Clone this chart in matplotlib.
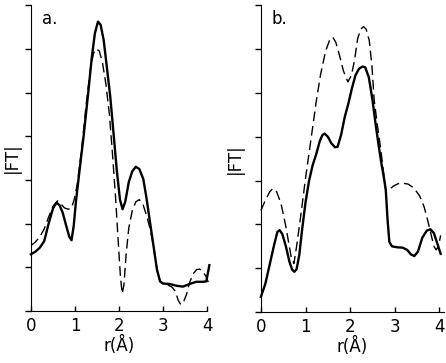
import numpy as np
from matplotlib import pyplot as plt

# panel a: solid and dashed |FT| curves (r in Angstrom)
a_solid_r = [0.0, 0.1, 0.2, 0.3, 0.4, 0.5, 0.58, 0.65, 0.72, 0.8, 0.87, 0.92, 0.97, 1.02,
             1.1, 1.2, 1.3, 1.38, 1.45, 1.52, 1.58, 1.65, 1.72, 1.8, 1.88, 1.95, 2.02, 2.08,
             2.14, 2.22, 2.3, 2.38, 2.46, 2.55, 2.62, 2.7, 2.78, 2.86, 2.93, 3.0, 3.15, 3.3,
             3.45, 3.6, 3.75, 3.9, 3.98, 4.05]
a_solid_y = [1.3, 1.36, 1.45, 1.6, 2.0, 2.35, 2.48, 2.42, 2.25, 1.95, 1.7, 1.62, 1.95, 2.5,
             3.2, 4.05, 5.0, 5.8, 6.35, 6.62, 6.55, 6.2, 5.6, 4.9, 4.0, 3.2, 2.55, 2.33,
             2.5, 2.95, 3.2, 3.3, 3.25, 3.02, 2.6, 2.05, 1.5, 0.95, 0.68, 0.63, 0.62, 0.58,
             0.56, 0.62, 0.67, 0.67, 0.68, 1.05]
a_dash_r = [0.0, 0.1, 0.2, 0.3, 0.4, 0.5, 0.6, 0.68, 0.76, 0.85, 0.92, 0.98, 1.05, 1.15,
            1.25, 1.35, 1.42, 1.48, 1.55, 1.62, 1.7, 1.78, 1.85, 1.92, 1.98, 2.03, 2.07,
            2.11, 2.16, 2.22, 2.3, 2.38, 2.46, 2.54, 2.62, 2.7, 2.78, 2.86, 2.93, 3.0, 3.1,
            3.2, 3.28, 3.34, 3.4, 3.46, 3.53, 3.6, 3.68, 3.76, 3.83, 3.9, 3.97, 4.05]
a_dash_y = [1.5, 1.58, 1.7, 1.88, 2.15, 2.4, 2.52, 2.45, 2.36, 2.33, 2.36, 2.55, 2.9, 3.7,
            4.7, 5.55, 5.9, 6.0, 5.95, 5.7, 5.2, 4.5, 3.6, 2.6, 1.6, 0.8, 0.4,
            0.6, 1.3, 1.9, 2.3, 2.5, 2.55, 2.45, 2.2, 1.9, 1.5, 0.95, 0.68, 0.62, 0.6,
            0.55, 0.45, 0.25, 0.15, 0.2, 0.38, 0.65, 0.85, 0.95, 0.96, 0.9, 0.8, 0.6]

# panel b
b_solid_r = [0.0, 0.1, 0.2, 0.3, 0.37, 0.42, 0.48, 0.56, 0.64, 0.7, 0.75, 0.8, 0.86, 0.92,
             1.0, 1.08, 1.16, 1.24, 1.32, 1.38, 1.43, 1.5, 1.58, 1.66, 1.72, 1.8, 1.88, 1.96,
             2.04, 2.12, 2.2, 2.28, 2.34, 2.42, 2.5, 2.57, 2.64, 2.7, 2.76, 2.8, 2.84, 2.88,
             2.94, 3.05, 3.18, 3.28, 3.36, 3.44, 3.52, 3.62, 3.72, 3.8, 3.88, 3.96, 4.03]
b_solid_y = [0.35, 0.65, 1.1, 1.55, 1.83, 1.87, 1.78, 1.5, 1.15, 0.97, 0.92, 0.98, 1.3, 1.85,
             2.5, 3.0, 3.35, 3.6, 3.9, 4.04, 4.07, 4.0, 3.85, 3.76, 3.77, 4.05, 4.45, 4.75,
             5.1, 5.4, 5.55, 5.6, 5.58, 5.35, 4.85, 4.3, 3.8, 3.4, 3.05, 2.78, 2.1, 1.6,
             1.5, 1.48, 1.47, 1.42, 1.32, 1.28, 1.38, 1.7, 1.86, 1.89, 1.8, 1.55, 1.33]
b_dash_r = [0.0, 0.1, 0.2, 0.27, 0.35, 0.45, 0.55, 0.62, 0.68, 0.74, 0.8, 0.9, 1.0, 1.12,
            1.24, 1.34, 1.45, 1.54, 1.61, 1.68, 1.75, 1.85, 1.95, 2.03, 2.1, 2.17, 2.24,
            2.3, 2.36, 2.43, 2.49, 2.54, 2.62, 2.69, 2.76, 2.8, 2.88, 2.98, 3.08, 3.18,
            3.3, 3.43, 3.56, 3.66, 3.75, 3.82, 3.88, 3.93, 3.98, 4.03]
b_dash_y = [2.32, 2.55, 2.75, 2.82, 2.75, 2.48, 2.0, 1.6, 1.25, 1.11, 1.5, 2.25, 3.05, 3.92,
            4.8, 5.43, 5.95, 6.2, 6.27, 6.15, 5.9, 5.5, 5.25, 5.4, 5.75, 6.24, 6.45,
            6.51, 6.45, 6.19, 5.6, 4.83, 4.2, 3.69, 3.1, 2.78, 2.8, 2.88, 2.93, 2.94,
            2.92, 2.83, 2.65, 2.4, 2.05, 1.75, 1.5, 1.42, 1.5, 1.75]

xticks = [0, 1, 2, 3, 4]
yticks = [0, 1, 2, 3, 4, 5, 6, 7]

fig = plt.figure(figsize=(4.46, 3.63), dpi=100)
ax1 = fig.add_axes([0.0695, 0.143, 0.395, 0.843])
ax2 = fig.add_axes([0.585, 0.140, 0.41, 0.846])

panels = [(ax1, a_solid_r, a_solid_y, a_dash_r, a_dash_y, 'a.', 4.0, -0.06),
          (ax2, b_solid_r, b_solid_y, b_dash_r, b_dash_y, 'b.', 4.1, -0.095)]

for ax, sr, sy, dr, dy, label, xmax, ylab_x in panels:
    ax.plot(sr, sy, '-', color='black', lw=1.7, clip_on=False,
            solid_joinstyle='round')
    ax.plot(dr, dy, '--', color='black', lw=1.0, dashes=(7, 3.5), clip_on=False)
    ax.set_xlim(0, xmax)
    ax.set_ylim(0, 7)
    ax.set_xticks(xticks)
    ax.set_yticks(yticks)
    ax.set_yticklabels([])
    ax.tick_params(axis='y', direction='out', length=4, width=1)
    ax.tick_params(axis='x', direction='in', length=3.5, width=1, labelsize=12, pad=4)
    for s in ['top', 'right']:
        ax.spines[s].set_visible(False)
    ax.set_xlabel('r(Å)', fontsize=12, labelpad=1)
    ax.set_ylabel('|FT|', fontsize=12)
    ax.yaxis.set_label_coords(ylab_x, 0.5)
    ax.text(0.06, 0.985, label, transform=ax.transAxes, fontsize=12, va='top')

fig.savefig('out.png', dpi=100)
